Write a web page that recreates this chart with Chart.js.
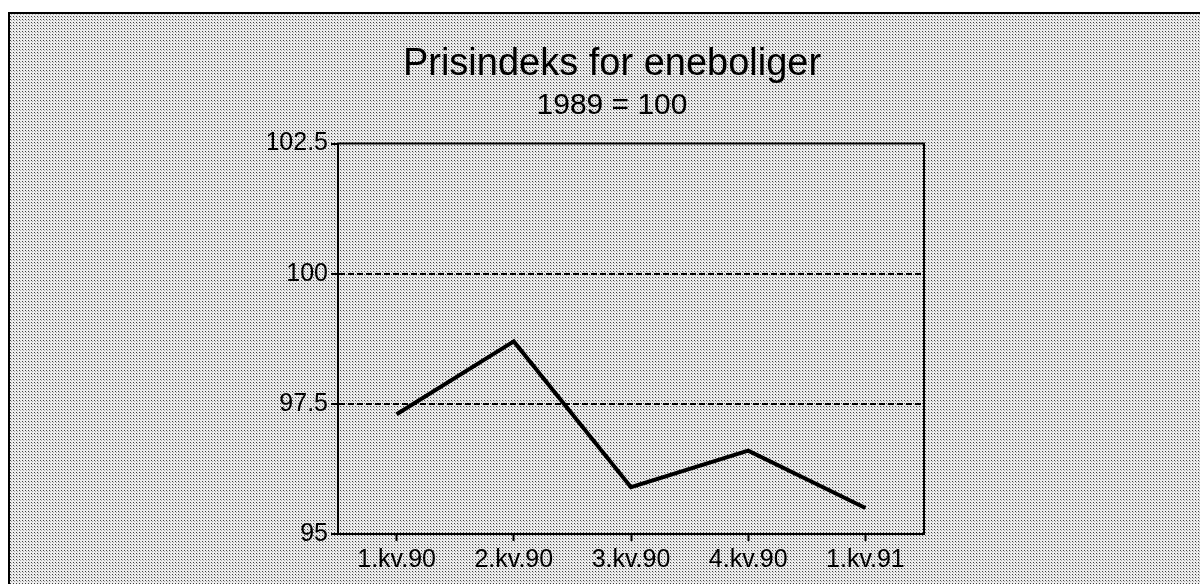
<!DOCTYPE html>
<html>
<head>
<meta charset="utf-8">
<script src="https://cdn.jsdelivr.net/npm/chart.js@4.4.0/dist/chart.umd.min.js"></script>
<style>
    html, body { margin: 0; padding: 0; background: #fff; }
    #wrap { width: 1200px; height: 584px; }
</style>
</head>
<body>
<div id="wrap"><canvas id="mycanvas" width="1200" height="584"></canvas></div>
<script>
// data
var quarters = ['1.kv.90', '2.kv.90', '3.kv.90', '4.kv.90', '1.kv.91'];
var priceIndex = [97.3, 98.7, 95.9, 96.6, 95.5];
var yTicks = [95, 97.5, 100, 102.5];
var titleText = 'Prisindeks for eneboliger';
var subtitleText = '1989 = 100';

var fontFamily = "'Liberation Sans', Arial, Helvetica, sans-serif";

// grey stipple like the printed screen
var tile = document.createElement('canvas');
tile.width = 3;
tile.height = 3;
var tctx = tile.getContext('2d');
tctx.fillStyle = '#ececec';
tctx.fillRect(0, 0, 3, 3);
tctx.fillStyle = '#404040';
tctx.fillRect(1, 1, 1, 1);
tctx.fillStyle = '#a8a8a8';
tctx.fillRect(2, 2, 1, 1);
var stipple = tctx.createPattern(tile, 'repeat');

var framePlugin = {
    id: 'frame',
    beforeDraw: function (chart) {
        var ctx = chart.ctx;
        ctx.save();
        ctx.fillStyle = stipple;
        ctx.fillRect(8, 12, chart.width - 8, chart.height - 12);
        ctx.strokeStyle = '#000';
        ctx.lineWidth = 2;
        ctx.beginPath();
        ctx.moveTo(9, chart.height);
        ctx.lineTo(9, 13);
        ctx.lineTo(chart.width, 13);
        ctx.stroke();
        ctx.restore();
    },
    afterDatasetsDraw: function (chart) {
        var a = chart.chartArea;
        var ctx = chart.ctx;
        ctx.save();
        ctx.strokeStyle = '#000';
        ctx.lineWidth = 2;
        ctx.beginPath();
        ctx.moveTo(a.left, a.top);
        ctx.lineTo(a.right, a.top);
        ctx.lineTo(a.right, a.bottom);
        ctx.stroke();
        ctx.restore();
    }
};

var ctx = document.getElementById('mycanvas');
var myChart = new Chart(ctx, {
    type: 'line',
    data: {
        labels: quarters,
        datasets: [{
            label: titleText,
            data: priceIndex,
            borderColor: '#000',
            borderWidth: 4,
            tension: 0,
            pointRadius: 0,
            fill: false
        }]
    },
    options: {
        responsive: false,
        animation: false,
        layout: {
            padding: { left: 268, right: 244, top: 0, bottom: 5 }
        },
        plugins: {
            legend: { display: false },
            tooltip: { enabled: false },
            title: {
                display: true,
                text: titleText,
                color: '#000',
                font: { family: fontFamily, size: 38, weight: 'normal', lineHeight: 1.2 },
                padding: { top: 42, bottom: 0 }
            },
            subtitle: {
                display: true,
                text: subtitleText,
                color: '#000',
                font: { family: fontFamily, size: 30, weight: 'normal', lineHeight: 1.2 },
                padding: { top: 0, bottom: 20 }
            }
        },
        scales: {
            x: {
                offset: true,
                border: { display: true, color: '#000', width: 2 },
                grid: {
                    drawOnChartArea: false,
                    drawTicks: true,
                    tickLength: 7,
                    tickColor: '#000',
                    tickWidth: 2
                },
                ticks: {
                    color: '#000',
                    padding: 4,
                    font: { family: fontFamily, size: 25 }
                }
            },
            y: {
                min: yTicks[0],
                max: yTicks[yTicks.length - 1],
                afterBuildTicks: function (scale) {
                    scale.ticks = yTicks.map(function (v) { return { value: v }; });
                },
                afterFit: function (scale) {
                    scale.width = 70;
                },
                border: { display: true, color: '#000', width: 2, dash: [6, 3] },
                grid: {
                    color: function (c) {
                        var v = c.tick ? c.tick.value : null;
                        return (v === yTicks[0] || v === yTicks[yTicks.length - 1]) ? 'rgba(0,0,0,0)' : '#000';
                    },
                    lineWidth: 2,
                    drawTicks: true,
                    tickLength: 7,
                    tickColor: '#000',
                    tickWidth: 2,
                    tickBorderDash: []
                },
                ticks: {
                    color: '#000',
                    padding: 3,
                    font: { family: fontFamily, size: 25 },
                    callback: function (value) {
                        return String(value);
                    }
                }
            },
            // empty right-hand axis, only there to keep the title where the original has it
            yRight: {
                position: 'right',
                display: true,
                afterFit: function (scale) {
                    scale.width = 32;
                },
                border: { display: false },
                grid: { display: false },
                ticks: { display: false }
            }
        }
    },
    plugins: [framePlugin]
});
</script>
</body>
</html>
